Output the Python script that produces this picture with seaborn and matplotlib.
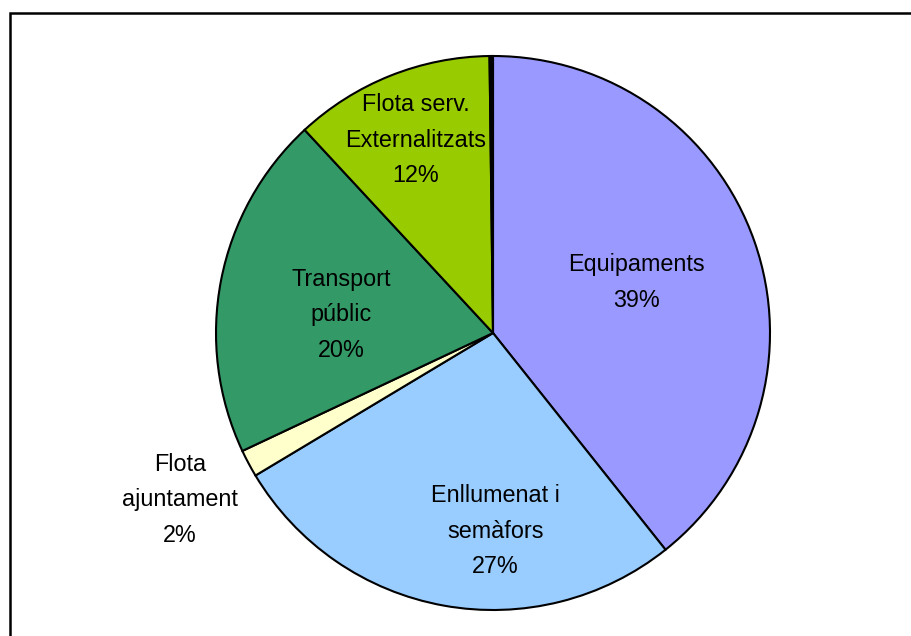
import numpy as np
import matplotlib
matplotlib.use("Agg")
import matplotlib.pyplot as plt
from matplotlib.patches import Rectangle
import seaborn as sns

# data (clockwise from 12 o'clock)
sectors = ["Equipaments", "Enllumenat i\nsemàfors", "Flota\najuntament",
           "Transport\npúblic", "Flota serv.\nExternalitzats", ""]
shares = [39.3, 27.1, 1.6, 20.1, 11.7, 0.2]
pct_labels = ["39%", "27%", "2%", "20%", "12%", ""]
colors = ["#9999FF", "#99CCFF", "#FFFFCC", "#339966", "#99CC00", "#000000"]

# label placement: radius (fraction of r) and angle shift from wedge middle
label_r = [0.55, 0.715, 1.28, 0.553, 0.75, 0]
label_shift = [0, 11, 0, 4.2, 0, 0]

sns.set_theme(style="white")
plt.rcParams["font.family"] = ["Liberation Sans", "DejaVu Sans"]

W, H = 912, 636
fig = plt.figure(figsize=(W / 100, H / 100), dpi=100)

# outer frame (cut off at right and bottom)
fig.patches.append(Rectangle((10 / W, -0.1), 1.2, (H - 13) / H + 0.1,
                             transform=fig.transFigure, fill=False,
                             edgecolor="black", linewidth=1.8))

cx, cy, r = 493, H - 333, 277
ax = fig.add_axes([(cx - r) / W, (cy - r) / H, 2 * r / W, 2 * r / H])
wedges, _ = ax.pie(shares, colors=colors, startangle=90, counterclock=False,
                   radius=1.0,
                   wedgeprops=dict(edgecolor="black", linewidth=1.5))
ax.set_xlim(-1, 1)
ax.set_ylim(-1, 1)
ax.axis("off")

for w, name, pct, d, sh in zip(wedges, sectors, pct_labels, label_r, label_shift):
    if not name:
        continue
    ang = np.deg2rad((w.theta1 + w.theta2) / 2 + sh)
    ax.text(d * np.cos(ang), d * np.sin(ang), f"{name}\n{pct}",
            ha="center", va="center", fontsize=16.8, linespacing=1.7,
            color="black")

fig.savefig("out.png", dpi=100)
